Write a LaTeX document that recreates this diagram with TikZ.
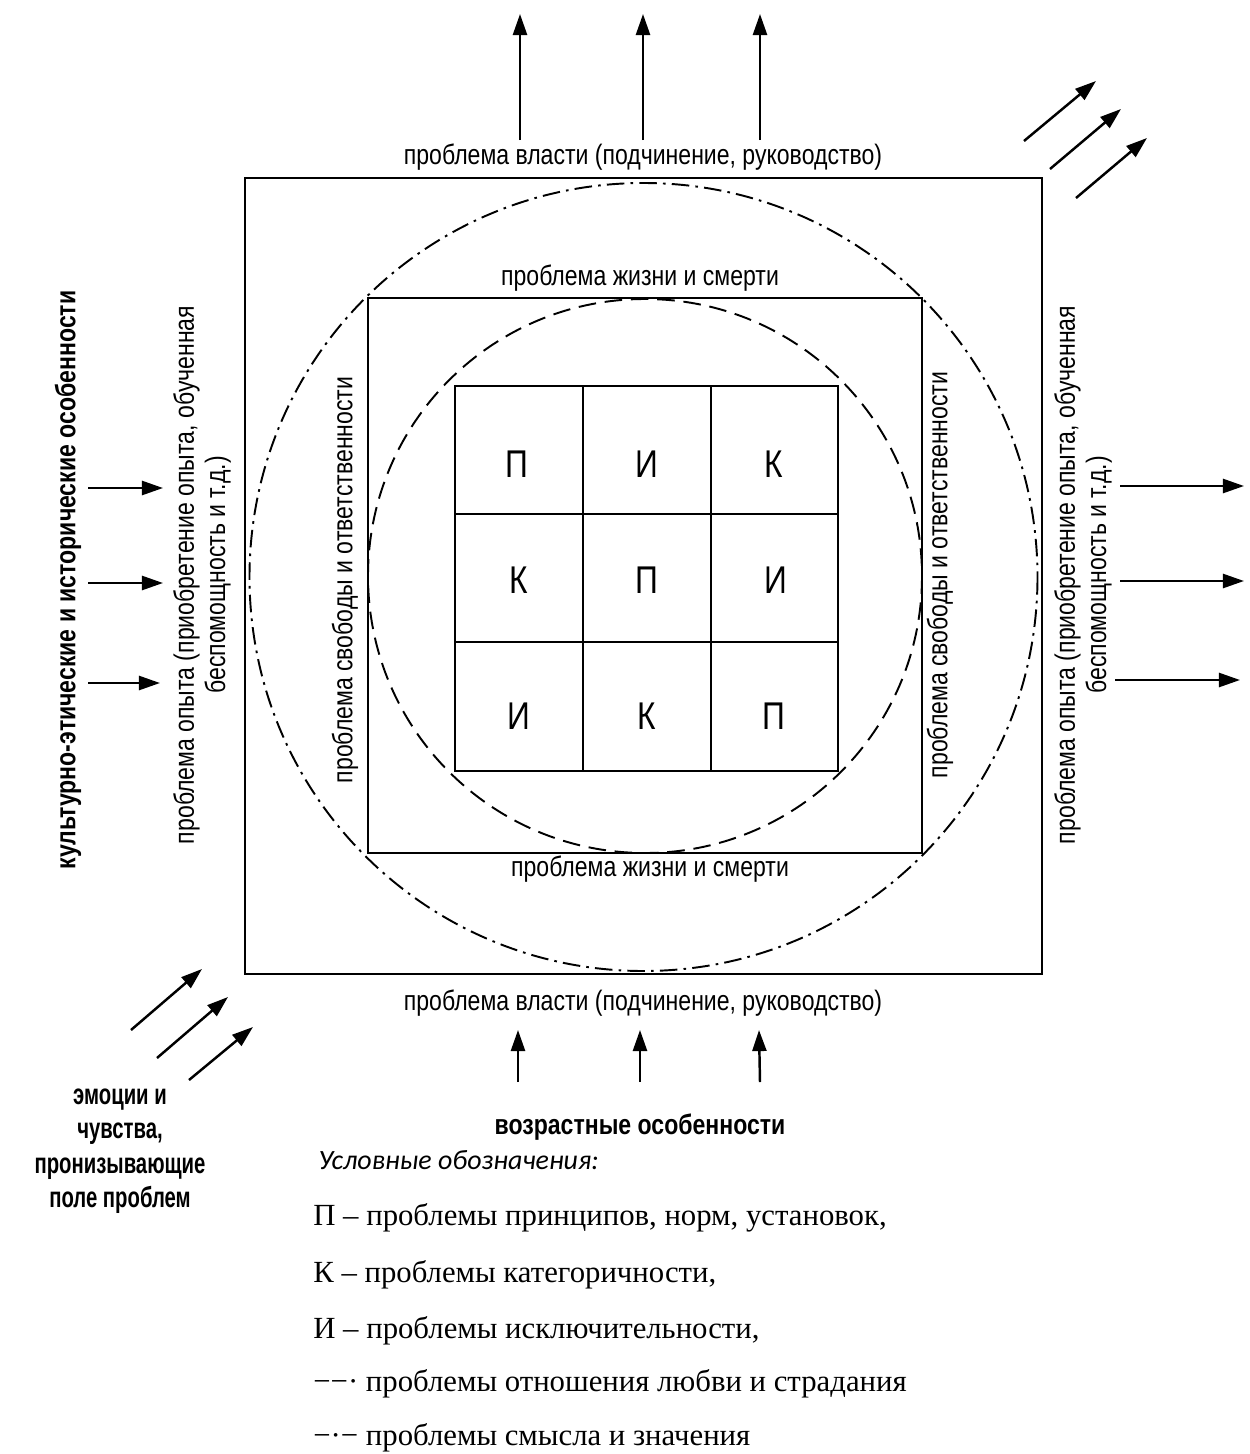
\documentclass[tikz,border=0pt]{standalone}
\usepackage{fontspec}
\setmainfont{Liberation Serif}
\newfontfamily\narrowsf[FakeStretch=0.82]{Liberation Sans}
\newfontfamily\narrowersf[FakeStretch=0.70]{Liberation Sans}
\newfontfamily\legit{Carlito}
\usetikzlibrary{arrows.meta}
\begin{document}
\begin{tikzpicture}[x=0.02cm,y=-0.02cm,
  lbl/.style={font=\narrowsf\fontsize{16}{17.8}\selectfont, inner sep=0pt, align=center},
  blbl/.style={font=\narrowsf\bfseries\fontsize{16}{19.3}\selectfont, inner sep=0pt, align=center},
  emolbl/.style={font=\narrowersf\bfseries\fontsize{16.5}{19.6}\selectfont, inner sep=0pt, align=center},
  letter/.style={font=\narrowsf\fontsize{22}{26}\selectfont, inner sep=0pt},
  legtxt/.style={font=\fontsize{17.5}{20}\selectfont, inner sep=0pt, anchor=west},
  arr/.style={-{Triangle[length=12pt,width=8pt]}, line width=1.4pt},
  frame/.style={line width=1.1pt},
  dashdot circ/.style={line width=1.1pt, dash pattern=on 10pt off 3.5pt on 1.5pt off 3.5pt},
  dash circ/.style={line width=1.1pt, dash pattern=on 10pt off 5pt}]
\fill[white] (0,0) rectangle (1249,1454);
\useasboundingbox (0,0) rectangle (1249,1454);

% outer square, circles, middle square
\draw[frame] (245,178) rectangle (1042,974);
\draw[dashdot circ] (643.5,577) circle[radius=394];
\draw[frame] (368,298) rectangle (922,853);
\draw[dash circ] (645,576) circle[radius=277];

% grid
\draw[frame] (455,386) rectangle (838,771);
\draw[frame] (583,386) -- (583,771) (711,386) -- (711,771)
             (455,514) -- (838,514) (455,642) -- (838,642);
\node[letter] (g11) at (517,464) {П};
\node[letter] (g12) at (647,464) {И};
\node[letter] (g13) at (774,464) {К};
\node[letter] (g21) at (519,580) {К};
\node[letter] (g22) at (647,580) {П};
\node[letter] (g23) at (776,580) {И};
\node[letter] (g31) at (519,716) {И};
\node[letter] (g32) at (647,716) {К};
\node[letter] (g33) at (774,716) {П};

% labels
\node[lbl] (powtop) at (643,157) {проблема власти (подчинение, руководство)};
\node[lbl] (powbot) at (643,1003) {проблема власти (подчинение, руководство)};
\node[lbl] (lifetop) at (640,278) {проблема жизни и смерти};
\node[lbl] (lifebot) at (650,869) {проблема жизни и смерти};
\node[lbl, rotate=90] (freeL) at (345,580) {проблема свободы и ответственности};
\node[lbl, rotate=90] (freeR) at (940,575) {проблема свободы и ответственности};
\node[lbl, rotate=90] (expL) at (202,575) {проблема опыта (приобретение опыта, обученная\\беспомощность и т.д.)};
\node[lbl, rotate=90] (expR) at (1083,575) {проблема опыта (приобретение опыта, обученная\\беспомощность и т.д.)};
\node[blbl, rotate=90] (cult) at (68,580) {культурно-этические и исторические особенности};
\node[blbl] (age) at (640,1127) {возрастные особенности};
\node[emolbl] (emo) at (120,1151) {эмоции и\\чувства,\\пронизывающие\\поле проблем};

% top arrows
\coordinate (t1s) at (520,140); \coordinate (t1e) at (520,14);
\coordinate (t2s) at (643,140); \coordinate (t2e) at (643,14);
\coordinate (t3s) at (760,140); \coordinate (t3e) at (760,14);
\draw[arr] (t1s) -- (t1e);
\draw[arr] (t2s) -- (t2e);
\draw[arr] (t3s) -- (t3e);

% top-right diagonal arrows
\coordinate (d1s) at (1024,141); \coordinate (d1e) at (1096,81);
\coordinate (d2s) at (1050,169); \coordinate (d2e) at (1121,109);
\coordinate (d3s) at (1076,198); \coordinate (d3e) at (1147,138);
\draw[arr] (d1s) -- (d1e);
\draw[arr] (d2s) -- (d2e);
\draw[arr] (d3s) -- (d3e);

% left arrows
\coordinate (l1s) at (88,488); \coordinate (l1e) at (163,488);
\coordinate (l2s) at (88,583); \coordinate (l2e) at (163,583);
\coordinate (l3s) at (88,683); \coordinate (l3e) at (160,683);
\draw[arr] (l1s) -- (l1e);
\draw[arr] (l2s) -- (l2e);
\draw[arr] (l3s) -- (l3e);

% right arrows
\coordinate (r1s) at (1120,486); \coordinate (r1e) at (1244,486);
\coordinate (r2s) at (1120,581); \coordinate (r2e) at (1244,581);
\coordinate (r3s) at (1115,680); \coordinate (r3e) at (1240,680);
\draw[arr] (r1s) -- (r1e);
\draw[arr] (r2s) -- (r2e);
\draw[arr] (r3s) -- (r3e);

% bottom arrows
\coordinate (b1s) at (518,1082); \coordinate (b1e) at (518,1030);
\coordinate (b2s) at (640,1082); \coordinate (b2e) at (640,1030);
\coordinate (b3s) at (760,1082); \coordinate (b3e) at (759,1030);
\draw[arr] (b1s) -- (b1e);
\draw[arr] (b2s) -- (b2e);
\draw[arr] (b3s) -- (b3e);

% bottom-left diagonal arrows
\coordinate (e1s) at (131,1030); \coordinate (e1e) at (202,969);
\coordinate (e2s) at (157,1058); \coordinate (e2e) at (228,997);
\coordinate (e3s) at (189,1080); \coordinate (e3e) at (253,1027);
\draw[arr] (e1s) -- (e1e);
\draw[arr] (e2s) -- (e2e);
\draw[arr] (e3s) -- (e3e);

% legend
\node[anchor=west, inner sep=0pt, font=\legit\itshape\fontsize{15.9}{19}\selectfont] (legtitle) at (318,1160) {Условные обозначения:};
\node[legtxt] (leg1) at (313,1218) {П – проблемы принципов, норм, установок,};
\node[legtxt] (leg2) at (313,1275) {К – проблемы категоричности,};
\node[legtxt] (leg3) at (313,1331) {И – проблемы исключительности,};
\node[legtxt] (leg4) at (313,1384) {−−· проблемы отношения любви и страдания};
\node[legtxt] (leg5) at (313,1438) {−·− проблемы смысла и значения};
\end{tikzpicture}
\end{document}
